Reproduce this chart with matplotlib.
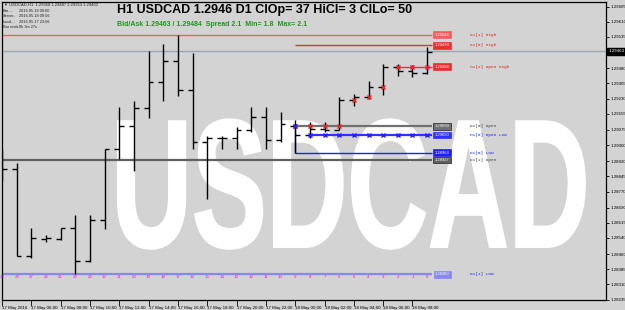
import numpy as np
import matplotlib
matplotlib.use("Agg")
import matplotlib.pyplot as plt
from matplotlib.textpath import TextPath
from matplotlib.patches import PathPatch
from matplotlib.font_manager import FontProperties
from matplotlib.transforms import Affine2D, blended_transform_factory

plt.rcParams['font.family'] = ['Liberation Sans', 'DejaVu Sans']

# H1 bars, oldest first (shift 29 ... 0)
shifts = np.arange(29, -1, -1)
opens = [1.28931, 1.28882, 1.28452, 1.28536, 1.28536, 1.28590, 1.28427, 1.28630,
         1.28980, 1.29094, 1.29183, 1.29311, 1.29415, 1.29272, 1.29015, 1.29035,
         1.29035, 1.29074, 1.29138, 1.29025, 1.29093, 1.29050, 1.29079, 1.29074,
         1.29222, 1.29237, 1.29287, 1.29388, 1.29366, 1.29358]
highs = [1.28980, 1.28911, 1.28590, 1.28556, 1.28590, 1.28654, 1.28654, 1.28980,
         1.29188, 1.29217, 1.29464, 1.29499, 1.29546, 1.29455, 1.29045, 1.29045,
         1.29089, 1.29188, 1.29188, 1.29163, 1.29124, 1.29114, 1.29114, 1.29237,
         1.29252, 1.29316, 1.29400, 1.29400, 1.29395, 1.29487]
lows = [1.28822, 1.28452, 1.28442, 1.28521, 1.28531, 1.28360, 1.28422, 1.28585,
        1.28931, 1.28872, 1.29134, 1.29217, 1.29242, 1.28980, 1.28733, 1.28980,
        1.28980, 1.29064, 1.28980, 1.29015, 1.28963, 1.29035, 1.29064, 1.29074,
        1.29193, 1.29227, 1.29247, 1.29341, 1.29336, 1.29353]
closes = [1.28882, 1.28452, 1.28541, 1.28541, 1.28590, 1.28427, 1.28630, 1.28980,
          1.29094, 1.29183, 1.29311, 1.29415, 1.29272, 1.29015, 1.29035, 1.29035,
          1.29074, 1.29138, 1.29025, 1.29104, 1.29050, 1.29079, 1.29074, 1.29222,
          1.29237, 1.29287, 1.29388, 1.29366, 1.29358, 1.29460]

time_shifts = [29, 27, 25, 23, 21, 19, 17, 15, 13, 11, 9, 7, 5, 3, 1]
time_labels = ["17 May 2016", "17 May 06:00", "17 May 08:00", "17 May 10:00",
               "17 May 12:00", "17 May 14:00", "17 May 16:00", "17 May 18:00",
               "17 May 20:00", "17 May 22:00", "18 May 00:00", "18 May 02:00",
               "18 May 04:00", "18 May 06:00", "18 May 08:00"]

price_ticks = [1.29685, 1.29610, 1.29535, 1.29380, 1.29305, 1.29230, 1.29155,
               1.29075, 1.29000, 1.28920, 1.28845, 1.28770, 1.28690, 1.28615,
               1.28540, 1.28460, 1.28385, 1.28310, 1.28235]

bid, ask = 1.29463, 1.29484

# level lines: name, price, first bar shift (None = whole chart), colour
level_names = ["D1[1] High", "D1[0] High", "H1[2] Open High", "D1[0] Open",
               "H1[0] Open Low", "D1[0] Low", "D1[1] Open", "D1[1] Low"]
level_prices = [1.29546, 1.29493, 1.29388, 1.29093, 1.29050, 1.28963, 1.28927, 1.28360]
level_start = [None, 9, 2, 9, 8, 9, None, None]
level_colors = ["#f06060", "#e83030", "#e83030", "#707070",
                "#3030ff", "#2020ee", "#606060", "#8888ee"]
level_text_colors = ["#e02020", "#e02020", "#e02020", "#404040",
                     "#2020ff", "#2020ff", "#404040", "#2020ff"]

bg = "#d3d3d3"
fig = plt.figure(figsize=(6.25, 3.1), dpi=100, facecolor=bg)
ax = fig.add_axes([2 / 625, 10 / 310, 604 / 625, 298 / 310], facecolor=bg)
ax.set_xlim(-29.0, 12.2)
ax.set_ylim(1.28233, 1.29708)

# watermark
tp = TextPath((0, 0), "USDCAD", size=100,
              prop=FontProperties(family="Liberation Sans", weight="bold"))
bb = tp.get_extents()
x0, x1, y0, y1 = 0.192, 0.965, 0.172, 0.606
tr = (Affine2D().translate(-bb.x0, -bb.y0)
      .scale((x1 - x0) / bb.width, (y1 - y0) / bb.height)
      .translate(x0, y0) + ax.transAxes)
ax.add_patch(PathPatch(tp, transform=tr, fc="white", ec="white", lw=1.5, zorder=0.5))

# bid line
ax.axhline(bid, color="#9aa6b2", lw=1.0, zorder=1)

# level lines with price boxes and names
box_x, name_x = 1.02, 2.93
for name, pr, st, col, tcol in zip(level_names, level_prices, level_start,
                                    level_colors, level_text_colors):
    xs = -30 if st is None else -st
    lw = 1.6 if name in ("D1[0] Open", "D1[1] Open", "H1[0] Open Low", "D1[1] Low") else 1.0
    ax.hlines(pr, xs, box_x - 0.7, color=col, lw=lw, zorder=1.5)
    ax.text(box_x, pr, "%.5f" % pr, fontsize=3.0, color="white", ha="center",
            va="center", zorder=5,
            bbox=dict(boxstyle="square,pad=0.3", fc=col,
                      ec="#202020" if "Open" in name and "D1" in name else col, lw=0.5))
    ax.text(name_x, pr, name, fontsize=3.2, family="Liberation Mono", color=tcol,
            ha="left", va="center", zorder=5)

# bracket from D1 open down to D1 low
ax.vlines(-9, level_prices[5], level_prices[3], color="#2020ee", lw=1.0, zorder=1.5)

# OHLC bars
xb = -shifts
ax.vlines(xb, lows, highs, color="black", lw=1.0, zorder=3)
ax.hlines(opens, xb - 0.33, xb, color="black", lw=1.0, zorder=3)
ax.hlines(closes, xb, xb + 0.33, color="black", lw=1.0, zorder=3)

# running high / low of the day's H1 opens
today = shifts <= 9
op = np.array(opens)[today]
ax.plot(xb[today], np.maximum.accumulate(op), ls="none", marker="x", ms=3.5,
        mew=1.0, color="#ee2020", zorder=4)
ax.plot(xb[today], np.minimum.accumulate(op), ls="none", marker="x", ms=3.5,
        mew=1.0, color="#2020ff", zorder=4)

# bar counters
btr = blended_transform_factory(ax.transData, ax.transAxes)
for s in shifts:
    ax.text(-s, 0.077, str(s), transform=btr, fontsize=3.2, color="#ff00ff",
            ha="center", va="center", zorder=5)

# axes
for sp in ax.spines.values():
    sp.set_color("black")
    sp.set_linewidth(0.9)
ax.yaxis.tick_right()
ax.set_yticks(price_ticks)
ax.set_yticklabels(["%.5f" % v for v in price_ticks])
ax.tick_params(axis="y", direction="out", length=2, width=0.6, labelsize=3.2, pad=1)
ax.set_xticks(-np.array(time_shifts))
ax.set_xticklabels(time_labels)
ax.tick_params(axis="x", direction="out", length=4, width=0.6, labelsize=3.2, pad=0.5)
plt.setp(ax.get_xticklabels(), ha="left")

# current bid box on the price scale
ytr = blended_transform_factory(ax.transAxes, ax.transData)
ax.text(1.004, bid, "%.5f" % bid, transform=ytr, fontsize=3.2, color="white",
        ha="left", va="center", clip_on=False, zorder=6,
        bbox=dict(boxstyle="square,pad=0.25", fc="black", ec="black"))

# headline texts
fig.text(117 / 625, 1 - 13.5 / 310, "H1 USDCAD 1.2946 D1 ClOp= 37 HiCl= 3 ClLo= 50",
         fontsize=9, fontweight="bold", color="black", va="baseline")
fig.text(117 / 625, 1 - 26.5 / 310,
         "Bid/Ask %.5f / %.5f  Spread 2.1  Min= 1.8  Max= 2.1" % (bid, ask),
         fontsize=5.0, fontweight="bold", color="#1a9a1a", va="baseline")

# top-left info block
info_keys = ["Bar.....", "Server..", "Local...", "Bar ends"]
info_vals = ["2016.05.18 09:00", "2016.05.18 09:56", "2016.05.17 23:56", "0h 3m 27s"]
fig.text(3 / 625, 1 - 5.0 / 310, "\u25bc", fontsize=2.8, color="#202020", va="center")
fig.text(9 / 625, 1 - 5.0 / 310, "USDCAD,H1  1.29358 1.29487 1.29353 1.29460",
         fontsize=3.0, color="#202020", va="center")
for i, (k, v) in enumerate(zip(info_keys, info_vals)):
    yy = 1 - (10.7 + 5.6 * i) / 310
    fig.text(3 / 625, yy, k, fontsize=2.8, color="#202020", va="center")
    fig.text(19 / 625, yy, v, fontsize=2.8, color="#202020", va="center")

fig.savefig("out.png", dpi=100, facecolor=bg)
